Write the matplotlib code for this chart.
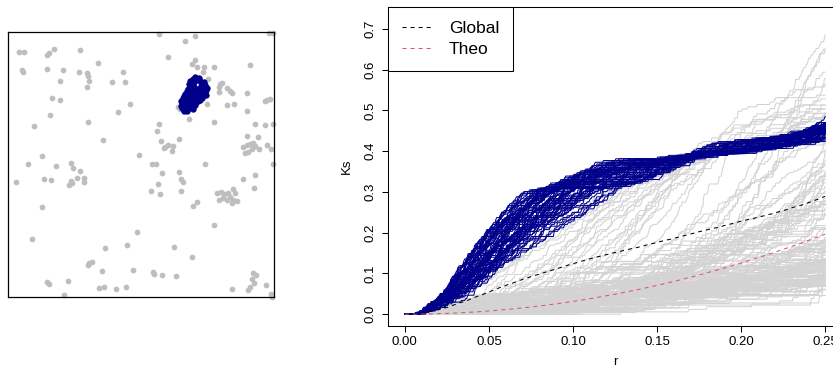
import numpy as np
import matplotlib
matplotlib.use("Agg")
import matplotlib.pyplot as plt

plt.rcParams['font.family'] = ['Liberation Sans', 'DejaVu Sans']
plt.rcParams['lines.scale_dashes'] = False

# point pattern in the unit square window
grey_x = [0.568, 0.700, 0.665, 0.981, 0.994, 0.041, 0.059, 0.144, 0.154, 0.172,
          0.269, 0.600, 0.703, 0.690, 0.708, 0.736, 0.731, 0.774, 0.909, 0.051,
          0.056, 0.147, 0.207, 0.266, 0.294, 0.301, 0.337, 0.431, 0.388, 0.437,
          0.194, 0.302, 0.297, 0.752, 0.796, 0.805, 0.791, 0.821, 0.833, 0.842,
          0.793, 0.896, 0.163, 0.194, 0.459, 0.971, 0.984, 0.965, 0.821, 0.848,
          0.645, 0.746, 0.414, 0.157, 0.898, 0.678, 0.774, 0.300, 0.096, 0.566,
          0.927, 0.965, 0.994, 0.558, 0.357, 0.575, 0.642, 0.898, 0.937, 0.589,
          0.602, 0.618, 0.585, 0.614, 0.883, 0.896, 0.909, 0.921, 0.927, 0.915,
          0.902, 0.890, 0.944, 0.971, 0.987, 0.127, 0.492, 0.075, 0.178, 0.236,
          0.242, 0.271, 0.539, 0.554, 0.738, 0.994, 0.579, 0.643, 0.029, 0.135,
          0.160, 0.259, 0.286, 0.284, 0.234, 0.229, 0.239, 0.650, 0.655, 0.564,
          0.536, 0.570, 0.648, 0.883, 0.927, 0.925, 0.783, 0.798, 0.811, 0.827,
          0.846, 0.852, 0.833, 0.821, 0.840, 0.861, 0.793, 0.808, 0.846, 0.711,
          0.693, 0.125, 0.772, 0.485, 0.088, 0.623, 0.447, 0.362, 0.689, 0.305,
          0.315, 0.301, 0.352, 0.470, 0.543, 0.548, 0.579, 0.630, 0.921, 0.931,
          0.915, 0.924, 0.909, 0.902, 0.969, 0.840, 0.987, 0.990, 0.144, 0.154,
          0.224, 0.340, 0.358, 0.406, 0.444, 0.208, 0.639]
grey_y = [0.991, 0.984, 0.965, 0.996, 0.996, 0.925, 0.922, 0.913, 0.918, 0.933,
          0.932, 0.903, 0.893, 0.877, 0.868, 0.866, 0.849, 0.868, 0.875, 0.856,
          0.849, 0.859, 0.856, 0.849, 0.843, 0.833, 0.881, 0.848, 0.812, 0.809,
          0.813, 0.814, 0.792, 0.821, 0.803, 0.808, 0.793, 0.787, 0.778, 0.768,
          0.774, 0.770, 0.750, 0.742, 0.729, 0.743, 0.748, 0.740, 0.725, 0.728,
          0.708, 0.728, 0.699, 0.685, 0.700, 0.673, 0.661, 0.660, 0.645, 0.652,
          0.651, 0.647, 0.652, 0.625, 0.591, 0.587, 0.596, 0.607, 0.605, 0.567,
          0.573, 0.571, 0.562, 0.552, 0.567, 0.573, 0.577, 0.582, 0.570, 0.557,
          0.548, 0.542, 0.557, 0.573, 0.557, 0.533, 0.535, 0.502, 0.494, 0.504,
          0.488, 0.477, 0.502, 0.502, 0.502, 0.503, 0.469, 0.473, 0.433, 0.444,
          0.442, 0.449, 0.449, 0.433, 0.436, 0.423, 0.429, 0.447, 0.434, 0.427,
          0.402, 0.388, 0.399, 0.444, 0.460, 0.410, 0.394, 0.398, 0.389, 0.394,
          0.407, 0.391, 0.376, 0.366, 0.356, 0.361, 0.366, 0.373, 0.366, 0.360,
          0.344, 0.341, 0.271, 0.245, 0.218, 0.189, 0.196, 0.184, 0.151, 0.128,
          0.134, 0.122, 0.099, 0.103, 0.097, 0.087, 0.084, 0.082, 0.093, 0.084,
          0.068, 0.055, 0.040, 0.028, 0.046, 0.030, 0.013, 0.003, 0.059, 0.051,
          0.063, 0.035, 0.039, 0.030, 0.038, 0.008, 0.718]

# highlighted cluster (dense, overlapping points)
blue_x = [0.693, 0.706, 0.718, 0.700,
          0.684, 0.697, 0.722, 0.734,
          0.679, 0.691, 0.729, 0.741,
          0.686, 0.699, 0.725, 0.738, 0.747,
          0.676, 0.690, 0.704, 0.718, 0.732, 0.745,
          0.671, 0.684, 0.697, 0.710, 0.723, 0.739,
          0.664, 0.679, 0.692, 0.705, 0.717, 0.730, 0.742,
          0.660, 0.674, 0.687, 0.701, 0.714, 0.727,
          0.657, 0.669, 0.682, 0.696, 0.709, 0.721,
          0.648, 0.655, 0.667, 0.680, 0.693, 0.706, 0.712,
          0.652, 0.664, 0.678, 0.691, 0.703,
          0.650, 0.662, 0.675, 0.688,
          0.654, 0.667, 0.681, 0.695,
          0.661, 0.672]
blue_y = [0.823, 0.820, 0.824, 0.828,
          0.813, 0.810, 0.814, 0.811,
          0.802, 0.805, 0.803, 0.800,
          0.794, 0.792, 0.796, 0.793, 0.788,
          0.785, 0.787, 0.783, 0.786, 0.784, 0.781,
          0.776, 0.778, 0.774, 0.777, 0.775, 0.773,
          0.767, 0.769, 0.765, 0.768, 0.766, 0.763, 0.760,
          0.758, 0.760, 0.756, 0.759, 0.755, 0.752,
          0.749, 0.751, 0.747, 0.750, 0.746, 0.744,
          0.740, 0.740, 0.738, 0.741, 0.737, 0.735, 0.738,
          0.730, 0.728, 0.731, 0.727, 0.724,
          0.721, 0.718, 0.721, 0.716,
          0.711, 0.709, 0.712, 0.708,
          0.703, 0.700]

x_ticks = [0.00, 0.05, 0.10, 0.15, 0.20, 0.25]
x_labels = ["0.00", "0.05", "0.10", "0.15", "0.20", "0.25"]
y_ticks = [0.0, 0.1, 0.2, 0.3, 0.4, 0.5, 0.6, 0.7]
y_labels = ["0.0", "0.1", "0.2", "0.3", "0.4", "0.5", "0.6", "0.7"]

# local K functions, Ripley isotropic edge correction, unit square window
r = np.linspace(0, 0.25, 513)
px = np.array(grey_x + blue_x)
py = np.array(grey_y + blue_y)
n = len(px)
d = np.hypot(px[:, None] - px[None, :], py[:, None] - py[None, :])
np.fill_diagonal(d, np.inf)

hp = np.pi / 2
a = [np.arccos(np.clip(b[:, None] / d, 0, 1)) for b in (px, 1 - px, py, 1 - py)]
out = 2 * (a[0] + a[1] + a[2] + a[3])
for i1, i2 in ((0, 2), (0, 3), (1, 2), (1, 3)):
    out -= np.maximum(0, a[i1] + a[i2] - hp)
w = 1.0 / np.clip(1 - out / (2 * np.pi), 0.01, 1)

Ks = np.zeros((n, len(r)))
for i in range(n):
    order = np.argsort(d[i])
    cw = np.concatenate([[0.0], np.cumsum(w[i][order])])
    Ks[i] = cw[np.searchsorted(d[i][order], r, side='right')] / (n - 1)
glob = Ks.mean(axis=0)
theo = np.pi * r ** 2
n_grey = len(grey_x)

fig = plt.figure(figsize=(8.33, 3.69), dpi=100)

# left: point pattern
ax1 = fig.add_axes([8.3 / 833, 71.7 / 369, 266 / 833, 265.6 / 369])
ax1.scatter(grey_x, grey_y, s=17, c='#BEBEBE', linewidths=0, clip_on=False, zorder=2)
ax1.scatter(blue_x, blue_y, s=21, c='#00008B', linewidths=0, clip_on=False, zorder=3)
ax1.set_xlim(0, 1)
ax1.set_ylim(0, 1)
ax1.set_xticks([])
ax1.set_yticks([])
for sp in ax1.spines.values():
    sp.set_linewidth(0.9)

# right: local K
ax2 = fig.add_axes([388 / 833, 43 / 369, 454 / 833, 319 / 369])
for i in range(n_grey):
    ax2.plot(r, Ks[i], color='#D3D3D3', lw=0.75, zorder=1)
for i in range(n_grey, n):
    ax2.plot(r, Ks[i], color='#00008B', lw=0.75, zorder=2)
ax2.plot(r, glob, color='black', lw=0.75, dashes=(2.9, 2.9), label='Global', zorder=3)
ax2.plot(r, theo, color='#DF536B', lw=0.75, dashes=(2.9, 2.9), label='Theo', zorder=3)

ax2.set_xlim(-0.01, 0.26)
ax2.set_ylim(-0.029, 0.754)
ax2.set_xticks(x_ticks)
ax2.set_xticklabels(x_labels)
ax2.set_yticks(y_ticks)
ax2.set_yticklabels(y_labels, rotation=90, va='center')
ax2.tick_params(direction='out', length=4.5, width=0.75, labelsize=9.5)
ax2.tick_params(axis='x', pad=2.5)
ax2.tick_params(axis='y', pad=4)
ax2.set_xlabel('r', fontsize=9.5, labelpad=6)
ax2.set_ylabel('Ks', fontsize=9.5, labelpad=8)
for sp in ax2.spines.values():
    sp.set_linewidth(0.75)

leg = ax2.legend(loc='upper left', borderaxespad=0, fancybox=False,
                 edgecolor='black', framealpha=1, fontsize=12.5,
                 handlelength=1.72, handletextpad=1.0, borderpad=0.8,
                 labelspacing=0.36)
leg.get_frame().set_linewidth(0.75)

fig.savefig('out.png', dpi=100)
